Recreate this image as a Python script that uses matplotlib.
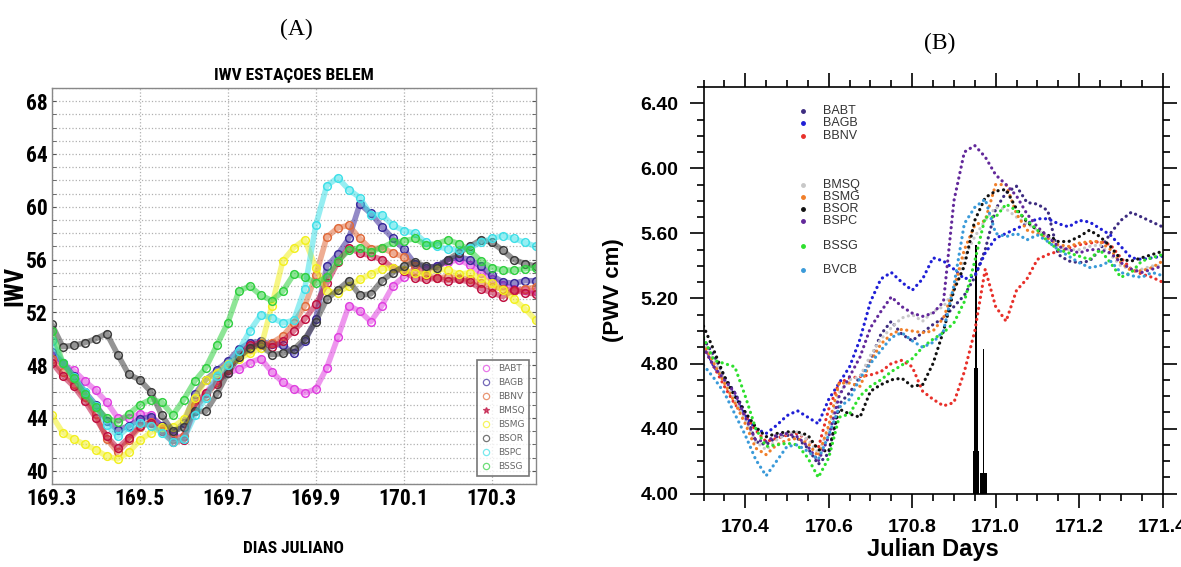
import matplotlib
matplotlib.use('Agg')
import matplotlib.pyplot as plt
import numpy as np
from matplotlib import font_manager
from matplotlib.lines import Line2D

# ---------------- data: panel A (IWV, mm) ----------------
days_a = np.round(np.arange(169.300, 170.4001, 0.025), 3)

babt_a = [48.7, 48.1, 47.6, 46.8, 46.1, 45.2, 44.0, 44.0, 44.3, 44.2, 43.4, 42.6, 42.6, 44.5, 45.9,
          46.9, 47.4, 47.7, 48.2, 48.5, 47.5, 46.7, 46.2, 45.9, 46.2, 47.8, 50.1, 52.5, 52.1, 51.3,
          52.5, 54.0, 54.7, 55.3, 55.2, 55.5, 55.8, 56.0, 55.6, 55.0, 54.5, 54.1, 53.8, 53.7, 53.6]
bagb_a = [49.0, 48.2, 47.2, 46.0, 45.0, 43.8, 43.1, 43.4, 43.9, 44.1, 43.4, 42.9, 43.6, 45.8, 46.9,
          47.6, 48.3, 49.2, 49.7, 49.8, 49.6, 49.5, 48.9, 49.8, 51.5, 55.5, 56.4, 57.6, 60.2, 59.5,
          58.5, 57.6, 56.8, 55.7, 55.4, 55.5, 56.0, 56.2, 56.0, 55.5, 54.8, 54.3, 54.2, 54.4, 54.4]
bbnv_a = [48.5, 47.5, 46.6, 45.6, 44.3, 42.4, 41.4, 42.3, 43.3, 43.7, 43.2, 42.4, 42.6, 44.8, 45.7,
          46.7, 47.8, 48.6, 49.2, 49.5, 49.7, 50.2, 51.2, 52.5, 54.8, 57.7, 58.4, 58.6, 57.6, 56.8,
          56.9, 56.5, 56.2, 55.5, 54.8, 54.6, 54.7, 54.6, 54.5, 54.2, 53.9, 53.8, 53.6, 53.8, 53.9]
bmsq_a = [48.2, 47.2, 46.4, 45.3, 44.0, 42.6, 41.7, 42.5, 43.4, 43.6, 43.0, 42.2, 42.3, 45.0, 45.9,
          46.6, 47.6, 48.8, 49.5, 49.7, 49.4, 49.8, 50.6, 51.5, 52.6, 54.2, 55.8, 56.9, 56.5, 56.3,
          56.0, 55.4, 55.1, 54.6, 54.5, 54.6, 54.4, 54.5, 54.3, 53.8, 53.5, 53.2, 53.7, 53.5, 53.4]
bsmg_a = [44.2, 42.9, 42.4, 42.0, 41.6, 41.1, 40.9, 41.4, 42.3, 42.9, 43.3, 43.3, 43.9, 45.5, 46.9,
          47.4, 48.1, 48.5, 48.9, 49.3, 52.5, 55.9, 56.9, 57.5, 55.4, 53.6, 53.5, 54.0, 54.5, 54.9,
          55.3, 55.4, 55.2, 55.0, 54.9, 55.3, 55.2, 54.9, 55.0, 54.6, 54.2, 53.7, 53.0, 52.3, 51.4]
bsor_a = [51.1, 49.4, 49.5, 49.7, 50.0, 50.4, 48.8, 47.3, 46.9, 46.0, 44.2, 43.0, 43.3, 44.5, 44.5,
          45.8, 47.4, 48.6, 49.3, 49.6, 48.8, 48.9, 49.2, 50.0, 51.3, 53.0, 53.7, 54.4, 53.3, 53.4,
          54.4, 55.0, 55.5, 55.8, 55.5, 55.4, 56.0, 56.5, 57.0, 57.5, 57.3, 56.7, 56.0, 55.7, 55.5]
bspc_a = [49.8, 48.2, 47.1, 46.0, 44.9, 43.5, 42.6, 43.3, 43.6, 43.4, 42.9, 42.2, 42.4, 44.2, 45.5,
          47.2, 48.0, 49.1, 50.6, 51.8, 51.6, 51.2, 51.4, 53.8, 58.6, 61.6, 62.2, 61.3, 60.7, 59.4,
          59.4, 58.6, 58.2, 58.0, 57.3, 57.0, 56.8, 56.7, 56.9, 57.3, 57.6, 57.8, 57.6, 57.3, 57.0]
bssg_a = [50.6, 48.2, 47.0, 45.8, 44.8, 44.0, 43.7, 44.3, 45.0, 45.4, 45.2, 44.2, 45.4, 46.8, 47.8,
          49.5, 51.2, 53.6, 54.0, 53.3, 52.9, 53.6, 54.9, 54.7, 54.2, 54.7, 55.9, 56.7, 56.9, 56.6,
          56.9, 57.3, 57.4, 57.6, 57.1, 57.2, 57.5, 57.2, 56.7, 55.9, 55.4, 55.2, 55.2, 55.3, 55.4]

stations_a = ['BABT', 'BAGB', 'BBNV', 'BMSQ', 'BSMG', 'BSOR', 'BSPC', 'BSSG']
series_a = [babt_a, bagb_a, bbnv_a, bmsq_a, bsmg_a, bsor_a, bspc_a, bssg_a]
colors_a = ['#e040e0', '#3a2a9a', '#e06a3a', '#c01040', '#f2f020', '#3c3c3c', '#40e0e8', '#30d040']
markers_a = ['o', 'o', 'o', '*', 'o', 'o', 'o', 'o']

# ---------------- data: panel B (PWV, cm) ----------------
days_b = np.round(np.arange(170.300, 171.4001, 0.025), 3)

babt_b = [4.95, 4.85, 4.72, 4.62, 4.50, 4.32, 4.30, 4.35, 4.36, 4.34, 4.28, 4.18, 4.25, 4.55, 4.62,
          4.72, 4.82, 4.98, 5.06, 4.98, 4.94, 4.99, 5.04, 5.08, 5.15, 5.22, 5.33, 5.50, 5.75, 5.85,
          5.89, 5.79, 5.78, 5.74, 5.47, 5.43, 5.42, 5.43, 5.50, 5.60, 5.68, 5.73, 5.70, 5.67, 5.64]
bagb_b = [4.92, 4.78, 4.70, 4.60, 4.48, 4.40, 4.37, 4.42, 4.48, 4.51, 4.47, 4.43, 4.58, 4.68, 4.78,
          4.95, 5.18, 5.32, 5.36, 5.30, 5.25, 5.32, 5.45, 5.43, 5.38, 5.32, 5.34, 5.48, 5.57, 5.60,
          5.63, 5.66, 5.69, 5.69, 5.66, 5.64, 5.68, 5.67, 5.63, 5.59, 5.52, 5.45, 5.44, 5.45, 5.46]
bbnv_b = [4.90, 4.78, 4.66, 4.55, 4.48, 4.39, 4.32, 4.34, 4.36, 4.37, 4.33, 4.28, 4.52, 4.68, 4.71,
          4.72, 4.73, 4.75, 4.80, 4.82, 4.78, 4.63, 4.58, 4.54, 4.56, 4.75, 5.00, 5.38, 5.15, 5.06,
          5.25, 5.32, 5.44, 5.47, 5.49, 5.51, 5.53, 5.54, 5.55, 5.53, 5.45, 5.38, 5.35, 5.33, 5.30]
bmsq_b = [4.93, 4.82, 4.70, 4.58, 4.45, 4.32, 4.27, 4.33, 4.37, 4.38, 4.33, 4.25, 4.40, 4.62, 4.70,
          4.72, 4.85, 4.95, 5.02, 5.08, 5.10, 5.06, 5.12, 5.15, 5.25, 5.45, 5.58, 5.68, 5.76, 5.75,
          5.70, 5.66, 5.62, 5.58, 5.52, 5.50, 5.50, 5.52, 5.53, 5.47, 5.40, 5.38, 5.38, 5.40, 5.40]
bsmg_b = [4.92, 4.80, 4.68, 4.56, 4.43, 4.28, 4.24, 4.30, 4.33, 4.34, 4.31, 4.23, 4.42, 4.68, 4.68,
          4.66, 4.81, 4.92, 4.98, 5.01, 5.00, 4.99, 5.00, 5.08, 5.26, 5.50, 5.65, 5.68, 5.90, 5.90,
          5.72, 5.62, 5.60, 5.57, 5.53, 5.52, 5.54, 5.55, 5.55, 5.50, 5.42, 5.37, 5.37, 5.39, 5.43]
bsor_b = [5.03, 4.88, 4.72, 4.60, 4.50, 4.41, 4.35, 4.37, 4.38, 4.38, 4.36, 4.27, 4.26, 4.52, 4.49,
          4.47, 4.63, 4.67, 4.70, 4.71, 4.66, 4.67, 4.80, 5.00, 5.25, 5.40, 5.68, 5.82, 5.86, 5.87,
          5.75, 5.67, 5.62, 5.59, 5.55, 5.55, 5.58, 5.62, 5.58, 5.52, 5.44, 5.43, 5.45, 5.47, 5.49]
bspc_b = [4.90, 4.78, 4.70, 4.62, 4.47, 4.33, 4.32, 4.36, 4.37, 4.35, 4.29, 4.20, 4.35, 4.60, 4.72,
          4.84, 5.02, 5.12, 5.21, 5.15, 5.11, 5.09, 5.11, 5.18, 5.80, 6.10, 6.14, 6.07, 5.96, 5.90,
          5.83, 5.72, 5.64, 5.58, 5.52, 5.50, 5.48, 5.50, 5.50, 5.48, 5.42, 5.38, 5.36, 5.38, 5.40]
bssg_b = [4.96, 4.82, 4.80, 4.78, 4.60, 4.40, 4.29, 4.30, 4.31, 4.30, 4.22, 4.10, 4.22, 4.47, 4.49,
          4.60, 4.66, 4.70, 4.75, 4.79, 4.83, 4.90, 4.95, 4.99, 5.05, 5.18, 5.43, 5.70, 5.70, 5.78,
          5.74, 5.68, 5.62, 5.55, 5.50, 5.48, 5.46, 5.44, 5.50, 5.42, 5.33, 5.36, 5.43, 5.45, 5.47]
bvcb_b = [4.79, 4.71, 4.62, 4.49, 4.36, 4.21, 4.11, 4.20, 4.29, 4.30, 4.26, 4.21, 4.36, 4.53, 4.58,
          4.71, 4.80, 4.88, 4.96, 4.99, 4.94, 4.90, 4.93, 5.00, 5.28, 5.66, 5.76, 5.81, 5.60, 5.58,
          5.60, 5.56, 5.59, 5.55, 5.50, 5.46, 5.42, 5.39, 5.40, 5.43, 5.36, 5.34, 5.33, 5.36, 5.34]

stations_b = ['BABT', 'BAGB', 'BBNV', 'BMSQ', 'BSMG', 'BSOR', 'BSPC', 'BSSG', 'BVCB']
series_b = [babt_b, bagb_b, bbnv_b, bmsq_b, bsmg_b, bsor_b, bspc_b, bssg_b, bvcb_b]
colors_b = ['#3d2c80', '#1f1fd6', '#e8302a', '#c8c8c8', '#f07f2a', '#111111', '#62289a', '#2ee02e', '#3a9ad9']

# rain bars (day, top of bar in cm)
rain_day = [170.953, 170.953, 170.953, 170.971, 170.971]
rain_top = [5.53, 4.77, 4.26, 4.89, 4.13]
rain_width = [0.0035, 0.008, 0.016, 0.003, 0.016]


def pick_font(names, default):
    have = {f.name for f in font_manager.fontManager.ttflist}
    for n in names:
        if n in have:
            return n
    return default


narrow = pick_font(['Liberation Sans Narrow', 'Arial Narrow', 'Roboto Condensed',
                    'DejaVu Sans Condensed', 'Roboto'], 'DejaVu Sans')
narrow_kw = {'family': narrow, 'weight': 'bold'}
sans = pick_font(['Liberation Sans', 'Arial'], 'DejaVu Sans')
serif = pick_font(['Liberation Serif', 'Times New Roman'], 'DejaVu Serif')

fig = plt.figure(figsize=(11.81, 5.67), dpi=100)

# ---------------- panel A ----------------
ax = fig.add_axes([0.0438, 0.1464, 0.4099, 0.6984])
for name, vals, c, m in zip(stations_a, series_a, colors_a, markers_a):
    ax.plot(days_a, vals, color=c, lw=4.0, alpha=0.55, solid_capstyle='round')
    ax.plot(days_a, vals, ls='none', marker='o', ms=5.5, mfc='none', mec=c, mew=1.1)

ax.set_xlim(169.3, 170.4)
ax.set_ylim(39, 69)
ax.set_xticks([169.3, 169.5, 169.7, 169.9, 170.1, 170.3])
ax.set_xticklabels(['169.3', '169.5', '169.7', '169.9', '170.1', '170.3'])
ax.set_yticks(np.arange(40, 69, 4))
ax.set_yticks(np.arange(39, 70, 1), minor=True)
ax.grid(True, which='major', axis='x', ls=':', color='#b0b0b0', lw=0.9)
ax.grid(True, which='both', axis='y', ls=':', color='#b0b0b0', lw=0.9)
ax.tick_params(axis='both', which='both', direction='in', right=True, top=False,
               length=3, color='#555555', pad=3)
ax.tick_params(axis='x', which='major', length=0, pad=3)
for lab in ax.get_xticklabels() + ax.get_yticklabels():
    lab.set(**narrow_kw, fontsize=15.5)
for sp in ax.spines.values():
    sp.set_color('#888888')
    sp.set_linewidth(1.0)

ax.set_title('IWV ESTAÇOES BELEM', fontsize=12.5, pad=6, **narrow_kw)
ax.set_xlabel('DIAS JULIANO', fontsize=12.5, **narrow_kw)
ax.xaxis.set_label_coords(0.5, -0.145)
ax.set_ylabel('IWV', fontsize=18, **narrow_kw)
ax.yaxis.set_label_coords(-0.05, 0.5)

handles = [Line2D([], [], ls='none', marker=m, ms=4.5, mfc='none' if m == 'o' else c,
                  mec=c, mew=0.9, alpha=0.7)
           for c, m in zip(colors_a, markers_a)]
leg = ax.legend(handles, stations_a, loc='lower right', bbox_to_anchor=(0.995, 0.01),
                fontsize=6.5, frameon=True, fancybox=False, handlelength=1.0,
                handletextpad=0.8, labelspacing=0.55, borderpad=0.5, labelcolor='#666666')
leg.get_frame().set_edgecolor('#555555')
leg.get_frame().set_linewidth(1.2)

# ---------------- panel B ----------------
bx = fig.add_axes([0.5957, 0.1293, 0.3887, 0.7173])
for name, vals, c in zip(stations_b, series_b, colors_b):
    bx.plot(days_b, vals, color=c, lw=2.3, ls=(0, (0.05, 1.7)), dash_capstyle='round')

for d, t, w in zip(rain_day, rain_top, rain_width):
    bx.bar(d, t - 4.0, bottom=4.0, width=w, color='black', align='center')

bx.set_xlim(170.3, 171.4)
bx.set_ylim(4.0, 6.5)
bx.set_xticks([170.4, 170.6, 170.8, 171.0, 171.2, 171.4])
bx.set_xticklabels(['170.4', '170.6', '170.8', '171.0', '171.2', '171.4'])
bx.set_xticks(np.arange(170.3, 171.401, 0.05), minor=True)
bx.set_yticks([4.0, 4.4, 4.8, 5.2, 5.6, 6.0, 6.4])
bx.set_yticklabels(['4.00', '4.40', '4.80', '5.20', '5.60', '6.00', '6.40'])
bx.set_yticks(np.arange(4.0, 6.51, 0.1), minor=True)
bx.tick_params(axis='both', which='both', direction='out', top=True, right=True,
               width=1.2, color='black')
bx.tick_params(axis='both', which='major', length=10, pad=8)
bx.tick_params(axis='both', which='minor', length=5)
for lab in bx.get_xticklabels() + bx.get_yticklabels():
    lab.set(family=sans, weight='bold', fontsize=14)
for sp in bx.spines.values():
    sp.set_linewidth(1.2)
bx.set_xlabel('Julian Days', fontsize=17, family=sans, weight='bold', labelpad=2)
bx.set_ylabel('(PWV cm)', fontsize=16, family=sans, weight='bold', labelpad=12)

# station key inside panel B
key_y = [6.35, 6.276, 6.20, 5.90, 5.826, 5.75, 5.677, 5.524, 5.376]
for name, c, ky in zip(stations_b, colors_b, key_y):
    bx.plot([170.539], [ky], ls='none', marker='o', ms=2.5, color=c)
    bx.text(170.587, ky, name, fontsize=9, family=sans, color='#333333', va='center', ha='left')

# panel letters
fig.text(0.251, 0.948, '(A)', fontsize=17, family=serif, ha='center', va='center')
fig.text(0.796, 0.924, '(B)', fontsize=17, family=serif, ha='center', va='center')

fig.savefig('out.png', dpi=100)
